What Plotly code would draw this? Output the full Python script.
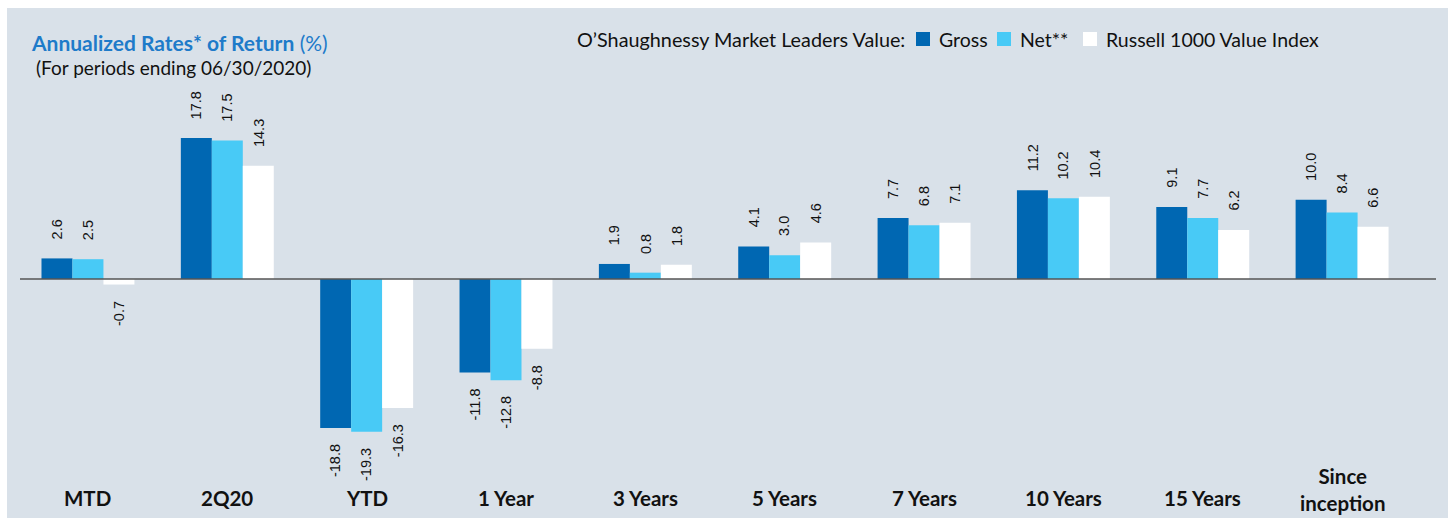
import plotly.graph_objects as go

categories = ["MTD", "2Q20", "YTD", "1 Year", "3 Years", "5 Years", "7 Years", "10 Years", "15 Years", "Since<br>inception"]
gross = [2.6, 17.8, -18.8, -11.8, 1.9, 4.1, 7.7, 11.2, 9.1, 10.0]
net = [2.5, 17.5, -19.3, -12.8, 0.8, 3.0, 6.8, 10.2, 7.7, 8.4]
russell = [-0.7, 14.3, -16.3, -8.8, 1.8, 4.6, 7.1, 10.4, 6.2, 6.6]
series_names = ["Gross", "Net**", "Russell 1000 Value Index"]
series_colors = ["#0067B2", "#48CAF6", "#FFFFFF"]
legend_title = "O’Shaughnessy Market Leaders Value:"

BG = "#D9E1E9"
W, H = 1448, 518
PL, PT = 7, 8
PW, PH = W - PL, H - PT
xs = list(range(len(categories)))


def px_x(p):
    return (p - PL) / PW


def px_y(p):
    return (H - p) / PH


fig = go.Figure()
for name, vals, col in zip(series_names, [gross, net, russell], series_colors):
    fig.add_trace(go.Bar(x=xs, y=vals, name=name, marker=dict(color=col, line=dict(width=0)),
                         hoverinfo="skip", showlegend=False))

# value labels
offsets = [-1, 0, 1]
bw = 0.2222
for off, vals in zip(offsets, [gross, net, russell]):
    for i, v in enumerate(vals):
        fig.add_annotation(x=i + off * bw, y=v, xref="x", yref="y",
                           text=f"{v:.1f}", textangle=-90, showarrow=False,
                           yanchor="bottom" if v >= 0 else "top",
                           yshift=17 if v >= 0 else -14,
                           font=dict(family="Liberation Sans, Arial", size=14.5, color="#111111"))

# category labels
for i, c in enumerate(categories):
    multi = "<br>" in c
    fig.add_annotation(x=i, y=px_y(489 if multi else 498), xref="x", yref="paper", text=f"<b>{c}</b>",
                       showarrow=False, yanchor="middle", xanchor="center",
                       font=dict(family="Lato", size=20.5, color="#111111"))

# zero line
fig.add_shape(type="line", xref="paper", yref="y", x0=px_x(20), x1=px_x(1436),
              y0=0, y1=0, line=dict(color="#555555", width=1.5), layer="above")

# title
fig.add_annotation(x=px_x(29), y=px_y(43), xref="paper", yref="paper",
                   text="<b>Annualized Rates* of Return</b> (%)", showarrow=False,
                   xanchor="left", yanchor="middle",
                   font=dict(family="Lato", size=21, color="#1E7BC9"))
fig.add_annotation(x=px_x(34), y=px_y(67), xref="paper", yref="paper",
                   text="(For periods ending 06/30/2020)", showarrow=False,
                   xanchor="left", yanchor="middle",
                   font=dict(family="Lato", size=19, color="#111111"))

# custom legend
LEG_Y = 39
fig.add_annotation(x=px_x(575), y=px_y(LEG_Y), xref="paper", yref="paper", text=legend_title,
                   showarrow=False, xanchor="left", yanchor="middle",
                   font=dict(family="Lato", size=19.8, color="#111111"))
sq_x = [916, 997, 1083]
for sx, name, col in zip(sq_x, series_names, series_colors):
    fig.add_shape(type="rect", xref="paper", yref="paper",
                  x0=px_x(sx), x1=px_x(sx + 14), y0=px_y(LEG_Y + 7), y1=px_y(LEG_Y - 7),
                  fillcolor=col, line=dict(width=0))
    fig.add_annotation(x=px_x(sx + 21), y=px_y(LEG_Y), xref="paper", yref="paper", text=name,
                       showarrow=False, xanchor="left", yanchor="middle",
                       font=dict(family="Lato", size=19.5, color="#111111"))

fig.update_layout(
    width=W, height=H,
    margin=dict(l=PL, r=0, t=PT, b=0),
    paper_bgcolor="white", plot_bgcolor=BG,
    barmode="group", bargap=0.333, bargroupgap=0,
    xaxis=dict(range=[-0.581, 9.760], showticklabels=False, showgrid=False, zeroline=False,
               fixedrange=True),
    yaxis=dict(range=[-30.18, 34.22], showticklabels=False, showgrid=False, zeroline=False,
               fixedrange=True),
    showlegend=False,
)

fig.write_html("out.html")
